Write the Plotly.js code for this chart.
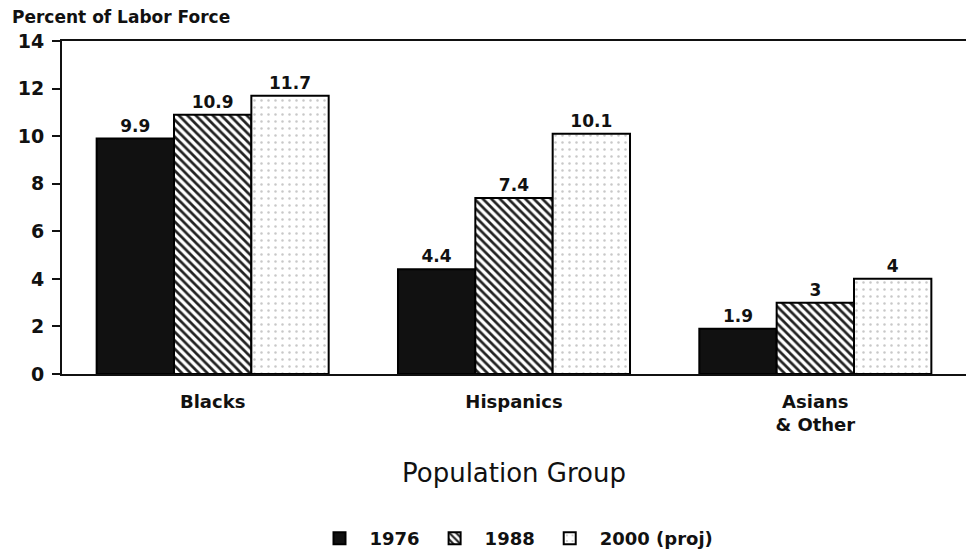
<!DOCTYPE html>
<html><head><meta charset="utf-8">
<script src="https://cdn.plot.ly/plotly-3.0.1.min.js"></script>
<style>html,body{margin:0;padding:0;background:#fff}</style>
</head><body>
<div id="chart" style="width:966px;height:557px"></div>
<script>
const categories = ["Blacks", "Hispanics", "Asians<br>& Other"];
const seriesNames = ["1976", "1988", "2000 (proj)"];
const v1976 = [9.9, 4.4, 1.9];
const v1988 = [10.9, 7.4, 3];
const v2000 = [11.7, 10.1, 4];
const yTicks = [0, 2, 4, 6, 8, 10, 12, 14];

const font = "DejaVu Sans, sans-serif";
const txtFont = {family: font, size: 17, color: "#111", weight: "bold"};
function bar(name, vals, marker) {
  return {
    type: "bar", name: name, x: categories, y: vals,
    text: vals.map(String), textposition: "outside", cliponaxis: false,
    textfont: txtFont, marker: marker
  };
}
const data = [
  bar(seriesNames[0], v1976, {color: "#111", line: {color: "#000", width: 2}}),
  bar(seriesNames[1], v1988, {color: "#fff", line: {color: "#000", width: 2},
      pattern: {shape: "\\", fgcolor: "#222", bgcolor: "#fff", size: 6, solidity: 0.45}}),
  bar(seriesNames[2], v2000, {color: "#fff", line: {color: "#000", width: 2},
      pattern: {shape: ".", fgcolor: "#c8c8c8", bgcolor: "#fff", size: 7, solidity: 0.1}})
];
const layout = {
  width: 966, height: 557,
  margin: {l: 62, r: 0, t: 41, b: 183},
  paper_bgcolor: "#fff", plot_bgcolor: "#fff",
  barmode: "group", bargap: 0.23, bargroupgap: 0,
  font: {family: font, color: "#111"},
  xaxis: {
    showline: true, linecolor: "#111", linewidth: 2, mirror: true,
    ticks: "", ticklabelstandoff: 10,
    tickfont: {family: font, size: 18, color: "#111", weight: "bold"},
    title: {text: "Population Group", font: {family: font, size: 26, color: "#111"}, standoff: 30}
  },
  yaxis: {
    range: [0, 14], tickvals: yTicks, ticktext: yTicks.map(String),
    showgrid: false, zeroline: false, showline: true, linecolor: "#111", linewidth: 2,
    ticks: "outside", ticklen: 8, tickwidth: 2, tickcolor: "#111", ticklabelstandoff: 4,
    tickfont: {family: font, size: 19, color: "#111", weight: "bold"}
  },
  annotations: [{
    text: "Percent of Labor Force", xref: "paper", yref: "paper",
    x: -0.058, y: 1.0, xanchor: "left", yanchor: "bottom", yshift: 12, showarrow: false,
    font: {family: font, size: 17, color: "#111", weight: "bold"}
  }],
  showlegend: true,
  legend: {
    orientation: "h", x: 0.5, xanchor: "center", y: -0.44, yanchor: "top",
    font: {family: font, size: 18, color: "#111", weight: "bold"},
    itemwidth: 50, tracegroupgap: 0
  }
};
Plotly.newPlot("chart", data, layout, {displayModeBar: false, staticPlot: true});
</script>
</body></html>
